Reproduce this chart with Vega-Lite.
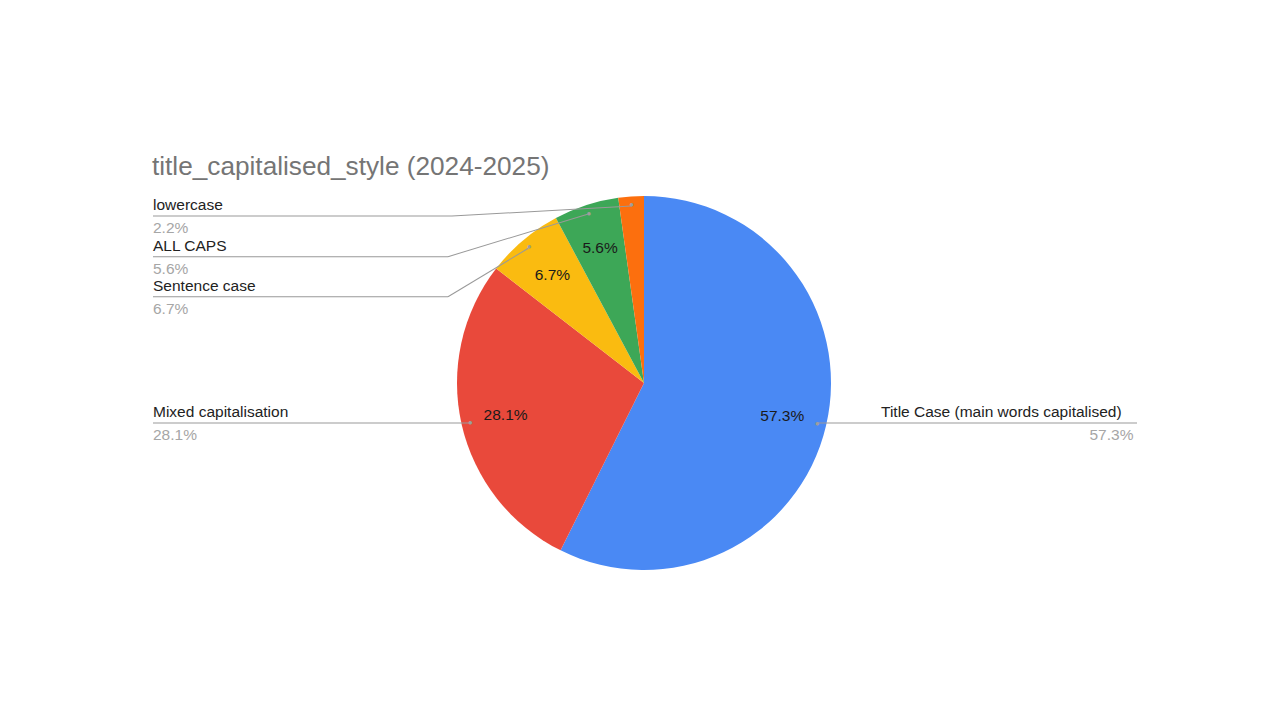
{
  "$schema": "https://vega.github.io/schema/vega-lite/v6.json",
  "width": 1272,
  "height": 674,
  "autosize": "none",
  "padding": {"left": 8, "top": 46, "right": 0, "bottom": 0},
  "background": "white",
  "title": {
    "text": "title_capitalised_style (2024-2025)",
    "anchor": "start",
    "frame": "group",
    "fontSize": 26.2,
    "fontWeight": "normal",
    "color": "#757575",
    "dx": 144,
    "dy": 138
  },
  "data": {
    "values": [
      {"name": "Title Case (main words capitalised)", "share": 0.573},
      {"name": "Mixed capitalisation", "share": 0.281},
      {"name": "Sentence case", "share": 0.067},
      {"name": "ALL CAPS", "share": 0.056},
      {"name": "lowercase", "share": 0.022}
    ]
  },
  "layer": [
    {
      "mark": {"type": "arc", "outerRadius": 187},
      "encoding": {
        "theta": {"field": "share", "type": "quantitative", "stack": true},
        "order": {"field": "share", "sort": "descending"},
        "color": {
          "field": "name",
          "type": "nominal",
          "scale": {
            "domain": ["Title Case (main words capitalised)", "Mixed capitalisation", "Sentence case", "ALL CAPS", "lowercase"],
            "range": ["#4A89F4", "#E9493B", "#FABB10", "#3DA757", "#FC6F0E"]
          },
          "legend": null
        }
      }
    },
    {
      "mark": {"type": "text", "radius": 142, "fontSize": 15.5, "color": "#1a1a1a"},
      "encoding": {
        "theta": {"field": "share", "type": "quantitative", "stack": true},
        "order": {"field": "share", "sort": "descending"},
        "text": {
          "condition": {"test": "datum.share < 0.03", "value": ""},
          "field": "share",
          "type": "quantitative",
          "format": ".1%"
        }
      }
    },
    {
      "mark": {"type": "text", "radius": 178, "text": "●", "fontSize": 8, "color": "#9e9e9e"},
      "encoding": {
        "theta": {"field": "share", "type": "quantitative", "stack": true},
        "order": {"field": "share", "sort": "descending"}
      }
    },
    {
      "mark": {"type": "text", "align": "left", "baseline": "middle", "dy": -11, "fontSize": 15.5, "color": "#222222"},
      "encoding": {
        "x": {"field": "share", "type": "quantitative", "axis": null,
              "scale": {"domain": [0.281, 0.573], "range": [145, 873], "clamp": true}},
        "y": {"field": "share", "type": "quantitative", "axis": null,
              "scale": {"domain": [0.022, 0.056, 0.067, 0.281, 0.573], "range": [170, 210.7, 250.7, 377, 377]}},
        "text": {"field": "name"}
      }
    },
    {
      "mark": {"type": "text", "align": "left", "baseline": "middle", "dy": 12, "fontSize": 15.5, "color": "#a6a6a6"},
      "encoding": {
        "x": {"field": "share", "type": "quantitative", "axis": null,
              "scale": {"domain": [0.281, 0.573], "range": [145, 1081.5], "clamp": true}},
        "y": {"field": "share", "type": "quantitative", "axis": null,
              "scale": {"domain": [0.022, 0.056, 0.067, 0.281, 0.573], "range": [170, 210.7, 250.7, 377, 377]}},
        "text": {"field": "share", "type": "quantitative", "format": ".1%"}
      }
    },
    {
      "mark": {"type": "tick", "orient": "horizontal", "thickness": 1, "color": "#999999", "opacity": 1},
      "encoding": {
        "x": {"field": "share", "type": "quantitative", "axis": null,
              "scale": {"domain": [0.022, 0.056, 0.067, 0.281, 0.573], "range": [294.5, 292.5, 292.5, 303.5, 969.5]}},
        "y": {"field": "share", "type": "quantitative", "axis": null,
              "scale": {"domain": [0.022, 0.056, 0.067, 0.281, 0.573], "range": [170, 210.7, 250.7, 377, 377]}},
        "size": {"field": "share", "type": "quantitative", "legend": null,
                 "scale": {"domain": [0.022, 0.056, 0.067, 0.281, 0.573], "range": [299, 295, 295, 317, 319]}}
      }
    },
    {
      "transform": [{"filter": "datum.share < 0.1"}],
      "mark": {"type": "point", "shape": "stroke", "filled": false, "strokeWidth": 1, "color": "#999999", "opacity": 1},
      "encoding": {
        "x": {"field": "share", "type": "quantitative", "axis": null,
              "scale": {"domain": [0.022, 0.056, 0.067], "range": [533.85, 510.15, 480.15]}},
        "y": {"field": "share", "type": "quantitative", "axis": null,
              "scale": {"domain": [0.022, 0.056, 0.067], "range": [165, 189.35, 226.5]}},
        "size": {"field": "share", "type": "quantitative", "legend": null,
                 "scale": {"domain": [0.022, 0.056, 0.067], "range": [32400, 21521, 8798]}},
        "angle": {"field": "share", "type": "quantitative", "legend": null,
                  "scale": {"domain": [0.022, 0.056, 0.067], "range": [-3.19, -16.93, -31.08]}}
      }
    }
  ],
  "resolve": {"scale": {"x": "independent", "y": "independent", "size": "independent", "angle": "independent"}},
  "config": {"view": {"stroke": null}, "font": "Liberation Sans"}
}
